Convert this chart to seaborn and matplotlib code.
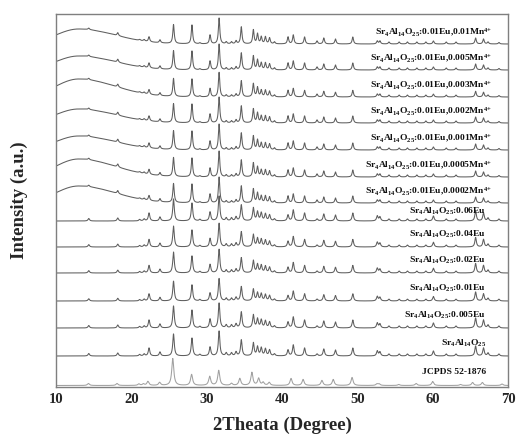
"""
XRD patterns of Sr4Al14O25 phosphors (Eu / Mn4+ doped) with JCPDS 52-1876 reference.
Stacked traces, each shifted by a constant offset.
"""

import numpy as np
import pandas as pd
import seaborn as sns
import matplotlib.pyplot as plt

# -------------------------------------------------
# Data
# -------------------------------------------------

# trace names, top to bottom
samples = [
    r"Sr$_4$Al$_{14}$O$_{25}$:0.01Eu,0.01Mn$^{4{+}}$",
    r"Sr$_4$Al$_{14}$O$_{25}$:0.01Eu,0.005Mn$^{4{+}}$",
    r"Sr$_4$Al$_{14}$O$_{25}$:0.01Eu,0.003Mn$^{4{+}}$",
    r"Sr$_4$Al$_{14}$O$_{25}$:0.01Eu,0.002Mn$^{4{+}}$",
    r"Sr$_4$Al$_{14}$O$_{25}$:0.01Eu,0.001Mn$^{4{+}}$",
    r"Sr$_4$Al$_{14}$O$_{25}$:0.01Eu,0.0005Mn$^{4{+}}$",
    r"Sr$_4$Al$_{14}$O$_{25}$:0.01Eu,0.0002Mn$^{4{+}}$",
    r"Sr$_4$Al$_{14}$O$_{25}$:0.06Eu",
    r"Sr$_4$Al$_{14}$O$_{25}$:0.04Eu",
    r"Sr$_4$Al$_{14}$O$_{25}$:0.02Eu",
    r"Sr$_4$Al$_{14}$O$_{25}$:0.01Eu",
    r"Sr$_4$Al$_{14}$O$_{25}$:0.005Eu",
    r"Sr$_4$Al$_{14}$O$_{25}$",
    "JCPDS 52-1876",
]

# vertical offset of each trace (a.u.)
offsets = [343, 317, 290, 264, 237, 210, 184, 166, 140, 114, 86, 59, 31, 1.5]

# broad amorphous hump seen in the Mn-containing samples (a.u.)
hump_height = [15, 14, 18, 14, 14, 18, 17, 0, 0, 0, 0, 0, 0, 0]

# peak intensity scale of each measured trace
peak_scale = [1.0, 1.0, 0.95, 1.0, 1.0, 1.0, 1.0, 1.0, 0.95, 0.95, 0.9, 1.0, 1.0]

# measured peak positions (2theta)
sample_pos = [14.35, 18.2, 21.1, 21.7, 22.35, 23.8, 25.6, 28.05, 29.1, 30.45,
              31.65, 32.6, 33.3, 33.9, 34.6, 36.2, 36.75, 37.25, 37.8, 38.35,
              39.0, 40.8, 41.5, 43.0, 44.65, 45.55, 47.1, 49.4, 52.65, 53.0,
              54.2, 55.55, 56.65, 57.9, 59.1, 60.1, 61.8, 63.1, 65.7, 66.75,
              67.35, 68.8]
# intensities, Eu-only samples
eu_int = [2.5, 3, 1.5, 2, 8, 4, 22, 18, 1.5, 9,
          25, 3, 3, 4, 16, 13, 9, 8, 7, 6,
          2, 6, 11, 8, 2, 7, 6, 8, 5, 4,
          2, 2, 2, 2, 2, 5, 2, 2, 10, 8,
          3, 2]
# intensities, Eu/Mn co-doped samples
mn_int = [1.5, 3, 1, 1.5, 5, 3, 19, 19, 1, 9,
          26, 2, 2, 3, 17, 14, 10, 7, 7, 6,
          2, 7, 9, 7, 3, 6, 5, 7, 3, 3,
          2, 2, 2, 2, 2, 3, 2, 2, 6, 5,
          2, 1.5]

# reference card peaks (2theta, intensity)
jcpds_pos = [14.3, 18.1, 21.0, 21.6, 22.2, 23.75, 25.5, 28.0, 30.4, 31.6,
             33.3, 34.4, 36.0, 36.9, 37.5, 38.3, 41.2, 42.8, 45.3, 46.8,
             49.3, 52.6, 52.9, 55.5, 57.8, 60.0, 63.7, 65.3, 66.6, 69.2]
jcpds_int = [2, 2, 1.5, 1.5, 4, 3, 27, 11, 9, 15,
             2, 7, 13, 7, 3, 3, 7, 6, 5, 6,
             8, 1.5, 1.5, 1, 2, 4, 1, 3, 3, 1.5]

x_ticks = [10, 20, 30, 40, 50, 60, 70]

# -------------------------------------------------
# Matplotlib configuration
# -------------------------------------------------

sns.set_style("white")
plt.rcParams["font.family"] = ["Liberation Serif", "DejaVu Serif"]
plt.rcParams["font.weight"] = "bold"
plt.rcParams["mathtext.fontset"] = "custom"
plt.rcParams["mathtext.rm"] = "Liberation Serif:bold"
plt.rcParams["mathtext.it"] = "Liberation Serif:bold"
plt.rcParams["mathtext.bf"] = "Liberation Serif:bold"

# -------------------------------------------------
# Build traces
# -------------------------------------------------

two_theta = np.arange(10, 70.001, 0.02)


def profile(pos, inten, hwhm):
    y = np.zeros_like(two_theta)
    for p, h in zip(pos, inten):
        y += h / (1 + ((two_theta - p) / hwhm) ** 2)
    return y


def hump(h):
    sig = np.where(two_theta < 13, 3.0, 4.8)
    return h * np.exp(-((two_theta - 13) ** 2) / (2 * sig ** 2))


frames = []
for i, name in enumerate(samples):
    if name.startswith("JCPDS"):
        y = profile(jcpds_pos, jcpds_int, 0.16)
    elif "Mn" in name:
        y = peak_scale[i] * profile(sample_pos, mn_int, 0.11)
    else:
        y = peak_scale[i] * profile(sample_pos, eu_int, 0.12)
    y = y + hump(hump_height[i]) + offsets[i]
    frames.append(pd.DataFrame({"2theta": two_theta, "I": y, "Sample": name}))

data = pd.concat(frames, ignore_index=True)

palette = {s: ("#a0a0a0" if s.startswith("JCPDS") else "#5e5e5e") for s in samples}

# -------------------------------------------------
# Plot
# -------------------------------------------------

fig = plt.figure(figsize=(5.17, 4.38), dpi=100)
ax = fig.add_axes([56 / 517, 51 / 438, 452 / 517, 373 / 438])

sns.lineplot(
    data=data, x="2theta", y="I", hue="Sample", palette=palette,
    estimator=None, sort=False, legend=False, linewidth=0.75, ax=ax
)

for i, name in enumerate(samples):
    if "Mn" in name:
        tx, dy = 67.9, 9
    elif name.startswith("JCPDS"):
        tx, dy = 67.1, 11.5
    elif i == 7:
        # first Eu trace sits close under the last Mn trace
        tx, dy = 67.1, 7.5
    else:
        tx, dy = 67.1, 10.5
    ax.text(tx, offsets[i] + dy, name, ha="right", va="baseline",
            fontsize=6.8, fontweight="bold", color="#111111")

ax.set_xlim(10, 70)
ax.set_ylim(0, 373)
ax.set_xticks(x_ticks)
ax.set_xticks(np.arange(15, 70, 10), minor=True)
ax.set_yticks([])

ax.set_xlabel("2Theata (Degree)", fontsize=13.5, fontweight="bold", labelpad=8)
ax.set_ylabel("Intensity (a.u.)", fontsize=13.5, fontweight="bold", labelpad=20)

for spine in ax.spines.values():
    spine.set_visible(True)
    spine.set_color("#7f7f7f")
    spine.set_linewidth(1.0)

ax.tick_params(axis="x", which="major", direction="in", length=3, width=0.8,
               color="#7f7f7f", labelsize=10.5, pad=4)
ax.tick_params(axis="x", which="minor", direction="out", length=2, width=0.8,
               color="#7f7f7f")
for lab in ax.get_xticklabels():
    lab.set_fontweight("bold")

fig.savefig("out.png", dpi=100)
plt.close(fig)
